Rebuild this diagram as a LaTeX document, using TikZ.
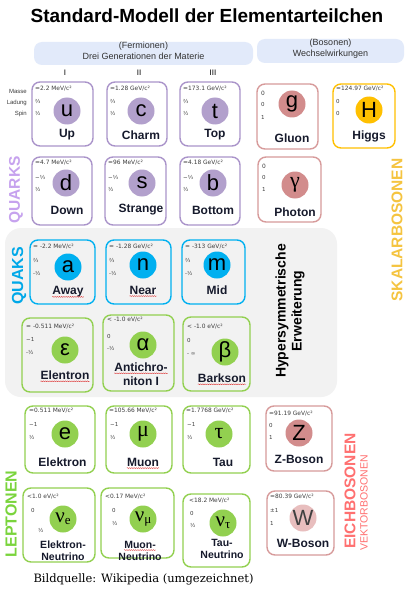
\documentclass[tikz,border=0pt]{standalone}
\usepackage{fontspec}
\setmainfont{Liberation Sans}
\newfontfamily\serifA{Liberation Serif}
\newfontfamily\djv{DejaVu Sans}
\newfontfamily\footfont{DejaVu Serif}
\usetikzlibrary{positioning, decorations.pathmorphing}

\definecolor{qborder}{RGB}{170,148,202}
\definecolor{qfill}{RGB}{178,160,204}
\definecolor{gborder}{RGB}{215,155,155}
\definecolor{gfill}{RGB}{210,140,140}
\definecolor{wfill}{RGB}{232,190,190}
\definecolor{hgold}{RGB}{255,192,0}
\definecolor{sblue}{RGB}{0,176,240}
\definecolor{lgreen}{RGB}{146,208,80}
\definecolor{bggray}{RGB}{242,242,242}
\definecolor{headblue}{RGB}{226,234,250}
\definecolor{quarklab}{RGB}{198,162,238}
\definecolor{quaklab}{RGB}{0,168,232}
\definecolor{leptlab}{RGB}{122,212,60}
\definecolor{skallab}{RGB}{245,196,64}
\definecolor{eichlab}{RGB}{255,112,112}
\definecolor{namecol}{RGB}{22,26,44}
\definecolor{infogray}{RGB}{60,60,60}
\definecolor{spellred}{RGB}{220,40,40}

\begin{document}
\begin{tikzpicture}[
  x=1pt, y=-1pt,
  every node/.style={align=center},
  pbox/.style={draw, rounded corners=8pt, line width=1.4pt},
  pdot/.style={circle, minimum size=27pt, inner sep=0pt, font=\fontsize{22}{22}\selectfont},
  pmass/.style={anchor=west, inner sep=0pt, text=infogray, font=\djv\fontsize{5.9}{6}\selectfont},
  pinfo/.style={anchor=west, inner sep=0pt, align=left, text=infogray, font=\djv\fontsize{5.5}{11.5}\selectfont},
  pname/.style={inner sep=0pt, text=namecol, font=\bfseries\fontsize{12}{14}\selectfont},
  nuname/.style={inner sep=0pt, text=namecol, font=\bfseries\fontsize{10.5}{12}\selectfont},
  rowlab/.style={anchor=east, inner sep=0pt, text=infogray, font=\fontsize{6}{6}\selectfont},
  headtxt/.style={text=black!80, font=\fontsize{9}{10.5}\selectfont},
  side/.style={rotate=90, inner sep=0pt, font=\bfseries\fontsize{15.5}{16}\selectfont},
  spell/.style={draw=spellred, line width=0.35pt, decorate, decoration={snake, amplitude=0.45pt, segment length=2.2pt}},
]
\path[use as bounding box, fill=white] (0,0) rectangle (413,599);

% title and headers
\node[font=\bfseries\fontsize{19}{19}\selectfont] (title) at (207,16) {Standard-Modell der Elementarteilchen};
\node[fill=headblue, rounded corners=8pt, minimum width=219pt, minimum height=23pt] (ferm_head) at (143.5,53.5) {};
\node[headtxt] (ferm_txt) at (143.5,51) {(Fermionen)\\Drei Generationen der Materie};
\node[fill=headblue, rounded corners=8pt, minimum width=147pt, minimum height=24pt] (bos_head) at (330.5,51) {};
\node[headtxt] (bos_txt) at (330.5,48.5) {(Bosonen)\\Wechselwirkungen};

\node[font=\fontsize{8}{8}\selectfont] (gen1) at (65,73) {I};
\node[font=\fontsize{8}{8}\selectfont] (gen2) at (139,73) {II};
\node[font=\fontsize{8}{8}\selectfont] (gen3) at (213,73) {III};

\node[rowlab] (masse_lab) at (27,91) {Masse};
\node[rowlab] (ladung_lab) at (27,103) {Ladung};
\node[rowlab] (spin_lab) at (27,114) {Spin};

% hypersymmetric background
\node[fill=bggray, rounded corners=16pt, minimum width=332pt, minimum height=169pt] (hyper_bg) at (171,312.5) {};
\node[rotate=90, font=\bfseries\fontsize{14}{16}\selectfont] (hyper_lab) at (290,311) {Hypersymmetrische\\Erweiterung};

% side labels
\node[side, text=quarklab] (quarks_lab) at (16,190) {QUARKS};
\node[side, text=quaklab, font=\bfseries\fontsize{16}{16}\selectfont] (quaks_lab) at (19,276) {QUAKS};
\node[side, text=leptlab, font=\bfseries\fontsize{16}{16}\selectfont] (lept_lab) at (11,514) {LEPTONEN};
\node[side, text=skallab] (skal_lab) at (397,230) {SKALARBOSONEN};
\node[side, text=eichlab] (eich_lab) at (350,491) {EICHBOSONEN};
\node[side, text=eichlab, font=\fontsize{10.5}{11}\selectfont] (vekt_lab) at (364,503) {VEKTORBOSONEN};

% quarks, first row
\node[pbox, draw=qborder, minimum width=61pt, minimum height=64pt] (up) at (62.5,114) {};
\node[pmass] (up_mass) at (35,89) {≃2.2 MeV/c²};
\node[pinfo] (up_info) at (35,107.5) {⅔\\½};
\node[pdot, fill=qfill] (up_sym) at (67,111) {u};
\node[pname] (up_name) at (67,135) {Up};

\node[pbox, draw=qborder, minimum width=60pt, minimum height=64pt] (charm) at (137,114) {};
\node[pmass] (charm_mass) at (110,89) {≃1.28 GeV/c²};
\node[pinfo] (charm_info) at (110,107.5) {⅔\\½};
\node[pdot, fill=qfill] (charm_sym) at (141,111) {c};
\node[pname] (charm_name) at (141,135) {Charm};

\node[pbox, draw=qborder, minimum width=60pt, minimum height=64pt] (top) at (210,114) {};
\node[pmass] (top_mass) at (183,89) {≃173.1 GeV/c²};
\node[pinfo] (top_info) at (183,107.5) {⅔\\½};
\node[pdot, fill=qfill] (top_sym) at (215,111) {t};
\node[pname] (top_name) at (215,135) {Top};

% gluon and higgs
\node[pbox, draw=gborder, minimum width=61pt, minimum height=65pt] (gluon) at (287.5,116.5) {};
\node[pmass] (gluon_mass) at (261,93) {0};
\node[pinfo, font=\djv\fontsize{5.5}{13}\selectfont] (gluon_info) at (261,110.5) {0\\1};
\node[pdot, fill=gfill] (gluon_sym) at (292,104) {g};
\node[pname] (gluon_name) at (292,138) {Gluon};

\node[pbox, draw=hgold, minimum width=62pt, minimum height=64pt] (higgs) at (364,116) {};
\node[pmass] (higgs_mass) at (336,89) {≃124.97 GeV/c²};
\node[pinfo] (higgs_info) at (336,107.5) {0\\0};
\node[pdot, fill=hgold] (higgs_sym) at (369,110) {H};
\node[pname] (higgs_name) at (369,136) {Higgs};

% quarks, second row
\node[pbox, draw=qborder, minimum width=60pt, minimum height=68pt] (down) at (62,191) {};
\node[pmass] (down_mass) at (35,163) {≃4.7 MeV/c²};
\node[pinfo, font=\djv\fontsize{5.5}{12}\selectfont] (down_info) at (35,183) {−⅓\\½};
\node[pdot, fill=qfill] (down_sym) at (66,183) {d};
\node[pname] (down_name) at (67,210) {Down};

\node[pbox, draw=qborder, minimum width=61pt, minimum height=68pt] (strange) at (135.5,191) {};
\node[pmass] (strange_mass) at (108,163) {≃96 MeV/c²};
\node[pinfo, font=\djv\fontsize{5.5}{12}\selectfont] (strange_info) at (108,183) {−⅓\\½};
\node[pdot, fill=qfill] (strange_sym) at (142,183) {s};
\node[pname] (strange_name) at (141,210) {Strange};

\node[pbox, draw=qborder, minimum width=60pt, minimum height=68pt] (bottom) at (210,191) {};
\node[pmass] (bottom_mass) at (183,163) {≃4.18 GeV/c²};
\node[pinfo, font=\djv\fontsize{5.5}{12}\selectfont] (bottom_info) at (183,183) {−⅓\\½};
\node[pdot, fill=qfill] (bottom_sym) at (213,183) {b};
\node[pname] (bottom_name) at (213,210) {Bottom};

% photon
\node[pbox, draw=gborder, minimum width=63pt, minimum height=65pt] (photon) at (289.5,189.5) {};
\node[pmass] (photon_mass) at (262,166) {0};
\node[pinfo, font=\djv\fontsize{5.5}{12.5}\selectfont] (photon_info) at (262,183.5) {0\\1};
\node[pdot, fill=gfill, font=\serifA\fontsize{22}{22}\selectfont] (photon_sym) at (295,185) {γ};
\node[pname] (photon_name) at (295,212) {Photon};

% quaks
\node[pbox, draw=sblue, minimum width=65pt, minimum height=64pt] (away) at (62.5,272) {};
\node[pmass] (away_mass) at (33,247) {≃ -2.2 MeV/c²};
\node[pinfo, font=\djv\fontsize{5.5}{13}\selectfont] (away_info) at (33,266.5) {⅔\\-½};
\node[pdot, fill=sblue] (away_sym) at (68,267) {a};
\node[pname] (away_name) at (68,292) {Away};

\node[pbox, draw=sblue, minimum width=65pt, minimum height=64pt] (near) at (138.5,272) {};
\node[pmass] (near_mass) at (109,247) {≃ -1.28 GeV/c²};
\node[pinfo, font=\djv\fontsize{5.5}{13}\selectfont] (near_info) at (109,266.5) {⅔\\-½};
\node[pdot, fill=sblue] (near_sym) at (143,265) {n};
\node[pname] (near_name) at (143,290) {Near};

\node[pbox, draw=sblue, minimum width=63pt, minimum height=64pt] (mid) at (213.5,272) {};
\node[pmass] (mid_mass) at (185,247) {≃ -313 GeV/c²};
\node[pinfo, font=\djv\fontsize{5.5}{13}\selectfont] (mid_info) at (185,266.5) {⅔\\-½};
\node[pdot, fill=sblue] (mid_sym) at (217,265) {m};
\node[pname] (mid_name) at (217,290) {Mid};

% hypersymmetric leptons
\node[pbox, draw=lgreen, minimum width=71pt, minimum height=74pt] (elentron) at (57.5,355) {};
\node[pmass] (elentron_mass) at (26,327) {≃ -0.511 MeV/c²};
\node[pinfo, font=\djv\fontsize{5.5}{13}\selectfont] (elentron_info) at (26,346.5) {−1\\-½};
\node[pdot, fill=lgreen] (elentron_sym) at (65,350) {ε};
\node[pname] (elentron_name) at (65,375) {Elentron};

\node[pbox, draw=lgreen, minimum width=71pt, minimum height=76pt] (antichroniton) at (138.5,353) {};
\node[pmass] (antichroniton_mass) at (107,320) {< -1.0 eV/c²};
\node[pinfo, font=\djv\fontsize{5.5}{12}\selectfont] (antichroniton_info) at (107,342) {0\\-½};
\node[pdot, fill=lgreen] (antichroniton_sym) at (143,345) {α};
\node[pname] (antichroniton_name1) at (141,367) {Antichro-};
\node[pname] (antichroniton_name2) at (141,381) {niton I};

\node[pbox, draw=lgreen, minimum width=67pt, minimum height=74pt] (barkson) at (216.5,354) {};
\node[pmass] (barkson_mass) at (187,327) {< -1.0 eV/c²};
\node[pinfo, font=\djv\fontsize{5.5}{13}\selectfont] (barkson_info) at (187,346.5) {0\\- ∞};
\node[pdot, fill=lgreen] (barkson_sym) at (225,352) {β};
\node[pname] (barkson_name) at (222,378) {Barkson};

% leptons
\node[pbox, draw=lgreen, minimum width=70pt, minimum height=67pt] (elektron) at (60,439.5) {};
\node[pmass] (elektron_mass) at (29,411) {≃0.511 MeV/c²};
\node[pinfo, font=\djv\fontsize{5.5}{13}\selectfont] (elektron_info) at (29,431.5) {−1\\½};
\node[pdot, fill=lgreen] (elektron_sym) at (65,434) {e};
\node[pname] (elektron_name) at (62.5,462) {Elektron};

\node[pbox, draw=lgreen, minimum width=66pt, minimum height=67pt] (muon) at (139,439.5) {};
\node[pmass] (muon_mass) at (109,411) {≃105.66 MeV/c²};
\node[pinfo, font=\djv\fontsize{5.5}{13}\selectfont] (muon_info) at (110,431.5) {−1\\½};
\node[pdot, fill=lgreen, font=\serifA\fontsize{22}{22}\selectfont] (muon_sym) at (143,434) {μ};
\node[pname] (muon_name) at (143,462) {Muon};

\node[pbox, draw=lgreen, minimum width=67pt, minimum height=67pt] (tau) at (216.5,439.5) {};
\node[pmass] (tau_mass) at (186,411) {≃1.7768 GeV/c²};
\node[pinfo, font=\djv\fontsize{5.5}{13}\selectfont] (tau_info) at (187,431.5) {−1\\½};
\node[pdot, fill=lgreen, font=\serifA\fontsize{22}{22}\selectfont] (tau_sym) at (219,434) {τ};
\node[pname] (tau_name) at (223,462) {Tau};

% z boson
\node[pbox, draw=gborder, minimum width=66pt, minimum height=65pt] (zboson) at (299,438.5) {};
\node[pmass] (zboson_mass) at (269,414) {≃91.19 GeV/c²};
\node[pinfo, font=\djv\fontsize{5.5}{12}\selectfont] (zboson_info) at (269,431) {0\\1};
\node[pdot, fill=gfill] (zboson_sym) at (299,433) {Z};
\node[pname] (zboson_name) at (299,459) {Z-Boson};

% neutrinos
\node[pbox, draw=lgreen, minimum width=72pt, minimum height=74pt] (nue) at (59,525) {};
\node[pmass] (nue_mass) at (27,497) {<1.0 eV/c²};
\node[pinfo] (nue_charge) at (31,510) {0};
\node[pinfo] (nue_spin) at (38,530) {½};
\node[pdot, fill=lgreen, font=\serifA\fontsize{21}{21}\selectfont] (nue_sym) at (63,519) {ν\raisebox{-2pt}{\fontsize{13}{13}\selectfont e}};
\node[nuname] (nue_name) at (63,551) {Elektron-\\Neutrino};

\node[pbox, draw=lgreen, minimum width=73pt, minimum height=70pt] (numu) at (137.5,523) {};
\node[pmass] (numu_mass) at (105,497) {<0.17 MeV/c²};
\node[pinfo, font=\djv\fontsize{5.5}{13}\selectfont] (numu_info) at (112,516.5) {0\\½};
\node[pdot, fill=lgreen, font=\serifA\fontsize{21}{21}\selectfont] (numu_sym) at (143,519) {ν\raisebox{-2pt}{\fontsize{13}{13}\selectfont μ}};
\node[nuname] (numu_name1) at (140,545) {Muon-};
\node[nuname] (numu_name2) at (140,557) {Neutrino};

\node[pbox, draw=lgreen, minimum width=67pt, minimum height=73pt] (nutau) at (216.5,530.5) {};
\node[pmass] (nutau_mass) at (189,501) {<18.2 MeV/c²};
\node[pinfo, font=\djv\fontsize{5.5}{12}\selectfont] (nutau_info) at (190,519) {0\\½};
\node[pdot, fill=lgreen, font=\serifA\fontsize{21}{21}\selectfont] (nutau_sym) at (223,523) {ν\raisebox{-2pt}{\fontsize{13}{13}\selectfont τ}};
\node[nuname] (nutau_name) at (222,549) {Tau-\\Neutrino};

% w boson
\node[pbox, draw=gborder, minimum width=67pt, minimum height=64pt] (wboson) at (300.5,523) {};
\node[pmass] (wboson_mass) at (270,497) {≃80.39 GeV/c²};
\node[pinfo, font=\djv\fontsize{5.5}{13}\selectfont] (wboson_info) at (270,516.5) {±1\\1};
\node[pdot, fill=wfill, text=black!75] (wboson_sym) at (303,518) {W};
\node[pname] (wboson_name) at (303,543) {W-Boson};

% spell check marks
\draw[spell] ([yshift=-2pt]away_name.base west) -- ([yshift=-2pt]away_name.base east);
\draw[spell] ([yshift=-2pt]near_name.base west) -- ([yshift=-2pt]near_name.base east);
\draw[spell] ([yshift=-2pt]elentron_name.base west) -- ([yshift=-2pt]elentron_name.base east);
\draw[spell] ([yshift=-2pt]antichroniton_name1.base west) -- ([yshift=-2pt]antichroniton_name1.base east);
\draw[spell] ([yshift=-2pt]barkson_name.base west) -- ([yshift=-2pt]barkson_name.base east);
\draw[spell] ([yshift=-2pt]muon_name.base west) -- ([yshift=-2pt]muon_name.base east);
\draw[spell] ([yshift=-1.5pt]numu_name1.base west) -- ([yshift=-1.5pt]numu_name1.base east);

% source
\node[font=\footfont\fontsize{11.5}{12}\selectfont] (source) at (143.5,579) {Bildquelle: Wikipedia (umgezeichnet)};

\end{tikzpicture}
\end{document}
